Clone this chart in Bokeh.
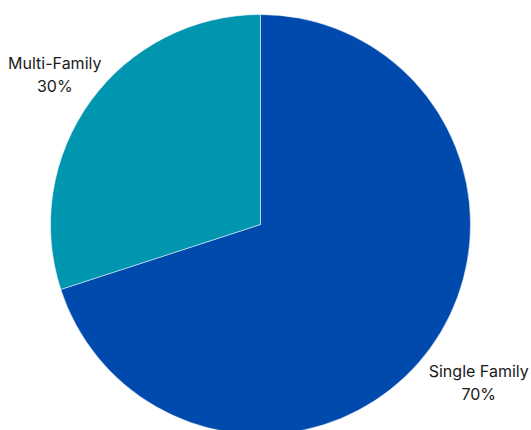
import math
from bokeh.plotting import figure
from bokeh.models import Range1d, ColumnDataSource
from bokeh.core.properties import value
from bokeh.embed import file_html
from bokeh.resources import INLINE

categories = ["Single Family", "Multi-Family"]
shares = [70, 30]
colors = ["#004AAD", "#0096B0"]

W, H = 531, 430
cx, cy, R = 260, 430 - 224, 210

top = math.pi / 2
total = sum(shares)
ang_single = 2 * math.pi * shares[0] / total
s_start = top - ang_single
starts = [s_start, top]
ends = [top, s_start + 2 * math.pi]
labels, lx, ly = [], [], []
for i, c in enumerate(categories):
    mid = (starts[i] + ends[i]) / 2
    rr = 258
    x = cx + rr * math.cos(mid)
    y = cy + rr * math.sin(mid)
    if math.cos(mid) > 0:
        x += 9.5
        y -= 6
    else:
        x += 3
        y -= 1.5
    lx.append(x)
    ly.append(y)
    labels.append(f"{c}\n{shares[i]}%")

src = ColumnDataSource(dict(start=starts, end=ends, color=colors))
lsrc = ColumnDataSource(dict(x=lx, y=ly, text=labels))

p = figure(width=W, height=H, output_backend="svg", toolbar_location=None,
           x_range=Range1d(0, W), y_range=Range1d(0, H), min_border=0)
p.axis.visible = False
p.grid.visible = False
p.outline_line_color = None
p.background_fill_color = "white"

p.wedge(x=cx, y=cy, radius=R, start_angle="start", end_angle="end",
        fill_color="color", line_color="white", line_width=1, line_alpha=0.5, source=src)
p.text(x="x", y="y", text="text", source=lsrc, text_align="center", text_baseline="middle",
       text_font=value("Inter"), text_font_size="16px", text_color="#1a1a1a",
       text_line_height=1.15)

open("out.html", "w").write(file_html(p, INLINE))
